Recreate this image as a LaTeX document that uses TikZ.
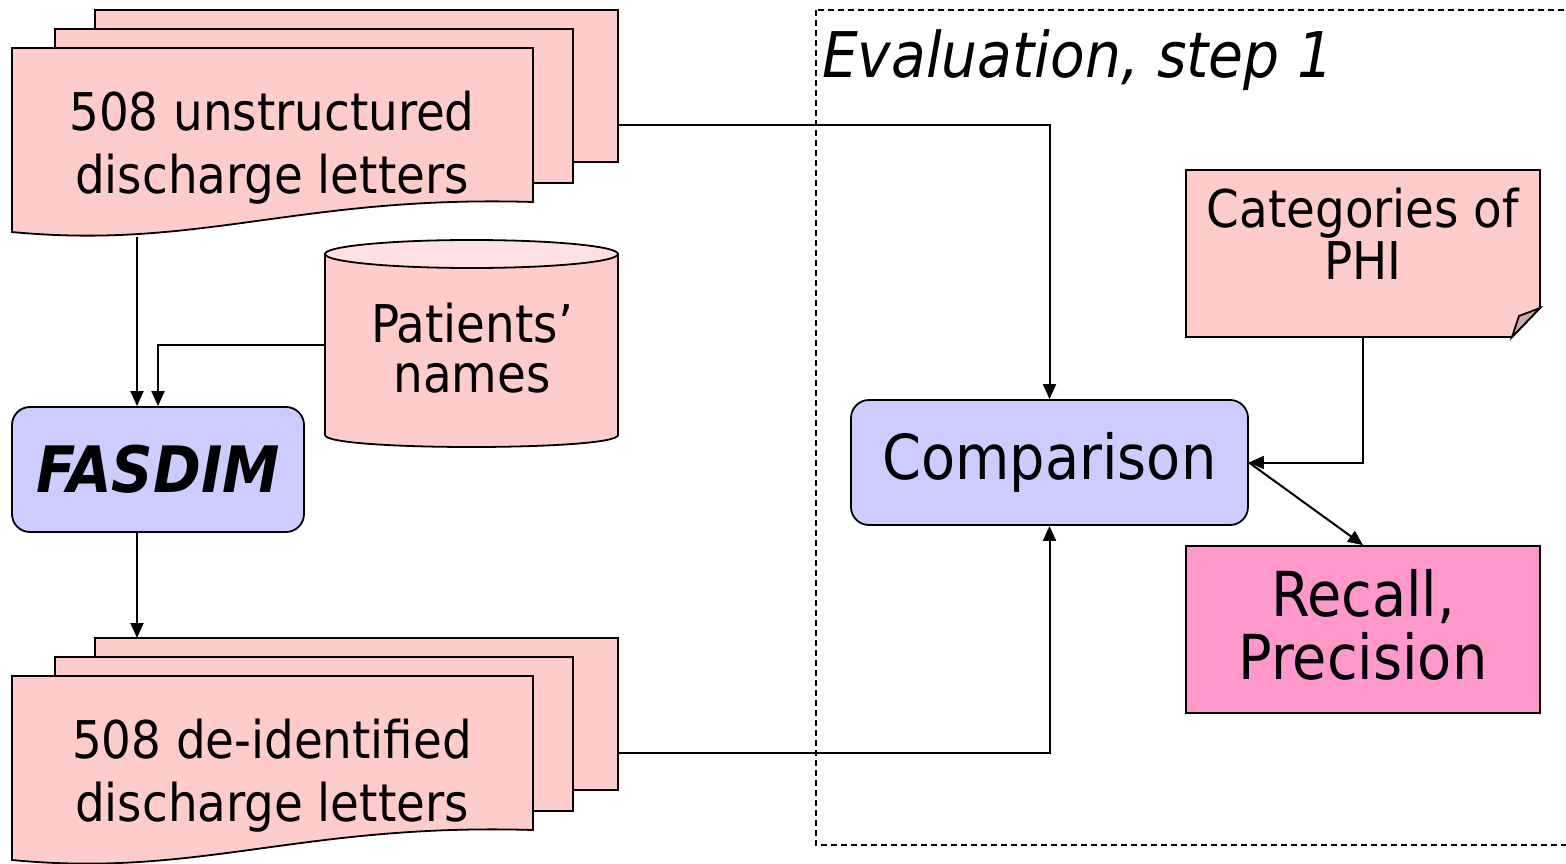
\documentclass[tikz,border=0pt]{standalone}
\usepackage{fontspec}
\setmainfont{DejaVu Sans Condensed}
\usetikzlibrary{arrows.meta}

\definecolor{sheet}{RGB}{255,204,204}
\definecolor{sheettop}{RGB}{255,224,228}
\definecolor{proc}{RGB}{204,204,255}
\definecolor{result}{RGB}{255,153,204}
\definecolor{foldc}{RGB}{214,168,168}

\tikzset{
  outline/.style={draw=black, line width=1.8pt, line join=miter},
  conn/.style={draw=black, line width=2pt, -{Triangle[length=15pt,width=13pt]}},
  txt/.style={align=center, inner sep=0pt},
  procbox/.style={outline, fill=proc, rounded corners=18pt, inner sep=0pt},
}

% a stack of three letters; #1 = vertical offset, #2 = prefix for names
\newcommand\letterstack[2]{%
  \begin{scope}[shift={(0,#1)}]
    \filldraw[outline, fill=sheet] (95,10) rectangle (618,162);
    \filldraw[outline, fill=sheet] (55,29) rectangle (573,183);
    \filldraw[outline, fill=sheet] (12,48) -- (533,48) -- (533,202)
      .. controls (300,195) and (200,250) .. (12,232) -- cycle;
    \coordinate (#2out) at (618,125);
    \coordinate (#2top) at (137,10);
    \coordinate (#2foot) at (137,237);
  \end{scope}}

\begin{document}
\begin{tikzpicture}[x=1pt, y=-1pt]
\useasboundingbox (0,0) rectangle (1566,864);

% evaluation frame
\draw[line width=1.3pt, dash pattern=on 6pt off 4pt] (816,10) rectangle (1600,845);
\node[anchor=base west, inner sep=0pt, font=\fontsize{63}{63}\selectfont\itshape]
  (evaltitle) at (822,78) {Evaluation, step 1};

% input and output letters
\letterstack{0}{din}
\node[txt, font=\fontsize{52}{63}\selectfont] (dintext) at (272,148)
  {508 unstructured\\discharge letters};
\letterstack{628}{dout}
\node[txt, font=\fontsize{52}{63}\selectfont] (douttext) at (272,776)
  {508 de-identified\\discharge letters};

% patients' names database
\filldraw[outline, fill=sheet] (325,254) -- (325,435)
  .. controls (325,451) and (618,451) .. (618,435) -- (618,254) -- cycle;
\filldraw[outline, fill=sheettop] (471.5,254) ellipse [x radius=146.5, y radius=14];
\coordinate (patin) at (325,345);
\node[txt, font=\fontsize{52}{50}\selectfont] (pat) at (472,348) {Patients’\\names};

% de-identification tool
\node[procbox, minimum width=292pt, minimum height=125pt,
  font=\fontsize{64}{64}\selectfont\bfseries\itshape] (fas) at (158,469.5) {FASDIM};

% comparison step
\node[procbox, minimum width=397pt, minimum height=125pt,
  font=\fontsize{62}{62}\selectfont] (cmp) at (1049.5,462.5) {Comparison};

% PHI categories note with folded corner
\node[inner sep=0pt, minimum width=354pt, minimum height=167pt] (phi) at (1363,253.5) {};
\filldraw[outline, fill=sheet] (1186,170) -- (1540,170) -- (1540,308)
  -- (1512,337) -- (1186,337) -- cycle;
\filldraw[outline, fill=foldc] (1540,308) -- (1512,337) -- (1519,316) -- cycle;
\node[txt, font=\fontsize{52}{52}\selectfont] (phitext) at (1363,234) {Categories of\\PHI};

% result
\node[outline, fill=result, minimum width=354pt, minimum height=167pt,
  inner sep=0pt] (rec) at (1363,629.5) {};
\node[txt, font=\fontsize{62}{63}\selectfont] (rectext) at (1363,625) {Recall,\\Precision};

% connectors
\draw[conn] (dinfoot) -- (fas.north -| dinfoot);
\draw[conn] (patin) -| (fas.north);
\draw[conn] (fas.south -| dinfoot) -- (douttop);
\draw[conn] (dinout) -| (cmp.north);
\draw[conn] (doutout) -| (cmp.south);
\draw[conn] (phi.south) |- (cmp.east);
\draw[conn] (cmp.east) -- (rec.north);
\end{tikzpicture}
\end{document}
